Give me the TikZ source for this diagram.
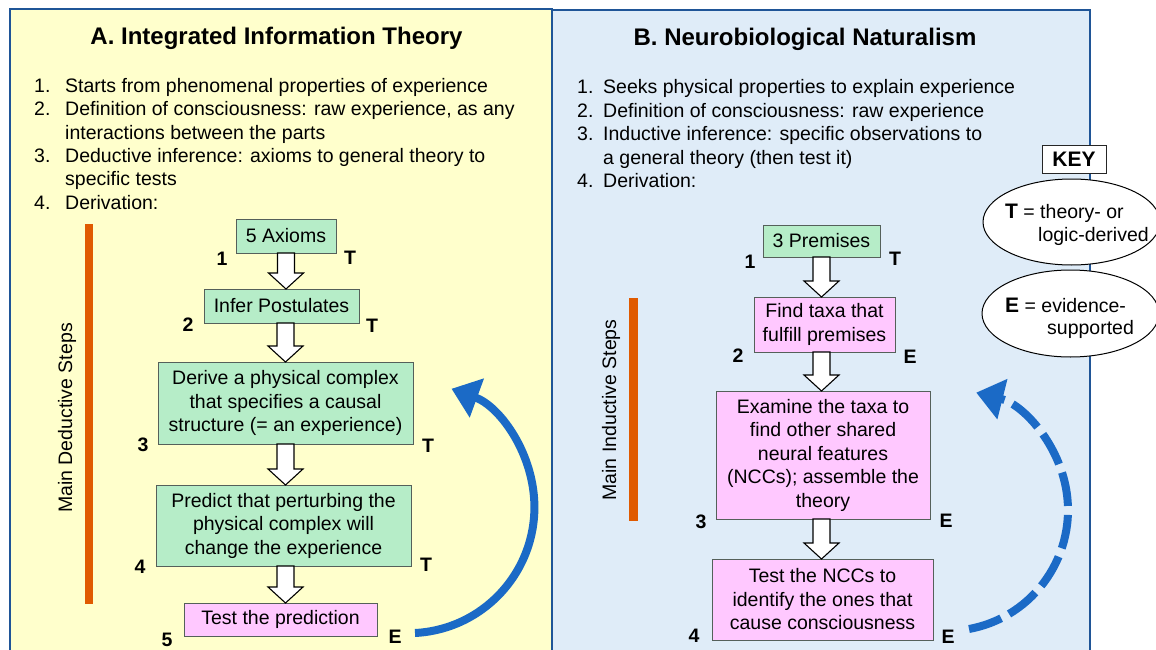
\documentclass[tikz,border=0pt]{standalone}
\usepackage{fontspec}
\setmainfont{Liberation Sans}
\usetikzlibrary{arrows.meta,shapes.geometric,calc}
\definecolor{panelA}{HTML}{FFFFCC}
\definecolor{panelB}{HTML}{DFECF8}
\definecolor{panelline}{HTML}{1F5597}
\definecolor{boxgreen}{HTML}{B6EDC8}
\definecolor{boxpink}{HTML}{FFC8FF}
\definecolor{boxline}{HTML}{55605A}
\definecolor{barorange}{HTML}{E05A00}
\definecolor{arcblue}{HTML}{1B6AC6}
\newcommand\bodyfont{\fontsize{19.5}{23.5}\selectfont}
\newcommand\keyfont{\fontsize{21}{24}\selectfont\bfseries}
\begin{document}
\begin{tikzpicture}[x=1pt,y=-1pt,
  panel/.style={draw=panelline, line width=2pt},
  title/.style={font=\fontsize{24}{28}\selectfont\bfseries, anchor=base, inner sep=0},
  listtxt/.style={font=\bodyfont, anchor=base west, inner sep=0},
  stepbox/.style={draw=boxline, line width=1pt, align=center, font=\bodyfont, inner sep=0, outer sep=0},
  greenbox/.style={stepbox, fill=boxgreen},
  pinkbox/.style={stepbox, fill=boxpink},
  steplabel/.style={font=\bodyfont\bfseries, inner sep=0},
  sidelabel/.style={font=\bodyfont, rotate=90, inner sep=0},
  keyell/.style={ellipse, draw=black, line width=1pt, fill=white, inner sep=0},
  feedback/.style={draw=arcblue, line width=8pt, -{Triangle[length=27pt,width=40pt]}},
  blockarrow/.style={draw=black, fill=white, line width=1.1pt, line join=miter,
    to path={let \p1=(\tikztostart), \p2=(\tikztotarget) in
      (\x1-8.5pt,\y1) -- (\x1+8.5pt,\y1) -- (\x1+8.5pt,\y2+16pt) -- (\x1+17.5pt,\y2+16pt)
      -- (\x1,\y2) -- (\x1-17.5pt,\y2+16pt) -- (\x1-8.5pt,\y2+16pt) -- cycle}}
]
\useasboundingbox (0,0) rectangle (1156,650);
\begin{scope}
\clip (0,0) rectangle (1156,650);
% panels
\draw[panel, fill=panelB] (552,10) rectangle (1090,665);
\draw[panel, fill=panelA] (10,9) rectangle (552,665);

% titles
\node[title] (titleA) at (276.5,44.5) {A. Integrated Information Theory};
\node[title] (titleB) at (805,45.5) {B. Neurobiological Naturalism};

% list A
\node[listtxt] (la1n) at (34,92.5) {1.};
\node[listtxt] (la1) at (65,92.5) {Starts from phenomenal properties of experience};
\node[listtxt] (la2n) at (34,115.8) {2.};
\node[listtxt] (la2) at (65,115.8) {Definition of consciousness: raw experience, as any};
\node[listtxt] (la2b) at (65,139.1) {interactions between the parts};
\node[listtxt] (la3n) at (34,162.4) {3.};
\node[listtxt] (la3) at (65,162.4) {Deductive inference: axioms to general theory to};
\node[listtxt] (la3b) at (65,185.7) {specific tests};
\node[listtxt] (la4n) at (34,209) {4.};
\node[listtxt] (la4) at (65,209) {Derivation:};

% list B
\node[listtxt] (lb1n) at (577,94) {1.};
\node[listtxt] (lb1) at (603,94) {Seeks physical properties to explain experience};
\node[listtxt] (lb2n) at (577,117.4) {2.};
\node[listtxt] (lb2) at (603,117.4) {Definition of consciousness: raw experience};
\node[listtxt] (lb3n) at (577,140.8) {3.};
\node[listtxt] (lb3) at (603,140.8) {Inductive inference: specific observations to};
\node[listtxt] (lb3b) at (603,164.2) {a general theory (then test it)};
\node[listtxt] (lb4n) at (577,187.6) {4.};
\node[listtxt] (lb4) at (603,187.6) {Derivation:};

% side bars and labels
\fill[barorange] (85,224) rectangle (93,604);
\node[sidelabel] (sideA) at (67,418) {Main Deductive Steps};
\fill[barorange] (629,298) rectangle (637.5,521);
\node[sidelabel] (sideB) at (611,410) {Main Inductive Steps};

% boxes A
\node[greenbox, minimum width=100pt, minimum height=34pt] (a1) at (286,236) {5 Axioms};
\node[greenbox, minimum width=155pt, minimum height=34pt] (a2) at (281.5,306) {Infer Postulates};
\node[greenbox, minimum width=255pt, minimum height=82pt] (a3) at (285.5,403) {Derive a physical complex\\that specifies a causal\\structure (= an experience)};
\node[greenbox, minimum width=255pt, minimum height=81pt] (a4) at (283.5,525.5) {Predict that perturbing the\\physical complex will\\change the experience};
\node[pinkbox, minimum width=193pt, minimum height=33pt] (a5) at (280.5,619.5) {Test the prediction};

% boxes B
\node[greenbox, minimum width=117pt, minimum height=32pt] (b1) at (821.5,241) {3 Premises};
\node[pinkbox, minimum width=141pt, minimum height=55pt] (b2) at (824.5,324.5) {Find taxa that\\fulfill premises};
\node[pinkbox, minimum width=214pt, minimum height=128pt] (b3) at (823,455) {Examine the taxa to\\find other shared\\neural features\\(NCCs); assemble the\\theory};
\node[pinkbox, minimum width=221pt, minimum height=81pt] (b4) at (822.5,599.5) {Test the NCCs to\\identify the ones that\\cause consciousness};

% step labels A
\node[steplabel] (na1) at (222,259) {1};
\node[steplabel] (ta1) at (350,258) {T};
\node[steplabel] (na2) at (188,325) {2};
\node[steplabel] (ta2) at (372,326) {T};
\node[steplabel] (na3) at (143,445) {3};
\node[steplabel] (ta3) at (428,446) {T};
\node[steplabel] (na4) at (140,567) {4};
\node[steplabel] (ta4) at (426,565) {T};
\node[steplabel] (na5) at (167,640) {5};
\node[steplabel] (ta5) at (395,637) {E};

% step labels B
\node[steplabel] (nb1) at (750,262) {1};
\node[steplabel] (tb1) at (895,259) {T};
\node[steplabel] (nb2) at (738,356) {2};
\node[steplabel] (tb2) at (910,357) {E};
\node[steplabel] (nb3) at (701,522) {3};
\node[steplabel] (tb3) at (946,521) {E};
\node[steplabel] (nb4) at (694,636) {4};
\node[steplabel] (tb4) at (948,637) {E};

% block arrows A
\draw[blockarrow] (a1.south) to (a2.north);
\draw[blockarrow] (a2.south -| a3.north) to (a3.north);
\draw[blockarrow] (a3.south) to (a4.north);
\draw[blockarrow] (a4.south -| a3.south) to (a5.north);

% block arrows B
\draw[blockarrow] (b1.south) to (b2.north);
\draw[blockarrow] (b2.south -| b1.south) to (b3.north);
\draw[blockarrow] (b3.south -| b1.south) to (b4.north);

% feedback arcs
\coordinate (arcAstart) at (415,633);
\draw[feedback] (arcAstart) arc[start angle=-87, end angle=70, radius=126pt];
\coordinate (arcBstart) at (969,629);
\draw[feedback, dash pattern=on 34pt off 9pt] (arcBstart) arc[start angle=-79.5, end angle=76, radius=121pt];

% key
\node[draw=black!85, fill=white, line width=1pt, minimum width=64pt, minimum height=28pt, inner sep=0, font=\keyfont] (key) at (1074,159) {KEY};
\node[keyell, minimum width=177pt, minimum height=86pt] (keyT) at (1071.5,222) {};
\node[listtxt] (keyTa) at (1005,218) {{\keyfont T} = theory- or};
\node[listtxt] (keyTb) at (1038,241) {logic-derived};
\node[keyell, minimum width=177pt, minimum height=87pt] (keyE) at (1070.5,313.5) {};
\node[listtxt] (keyEa) at (1005,312) {{\keyfont E} = evidence-};
\node[listtxt] (keyEb) at (1047,334) {supported};
\end{scope}
\end{tikzpicture}
\end{document}
